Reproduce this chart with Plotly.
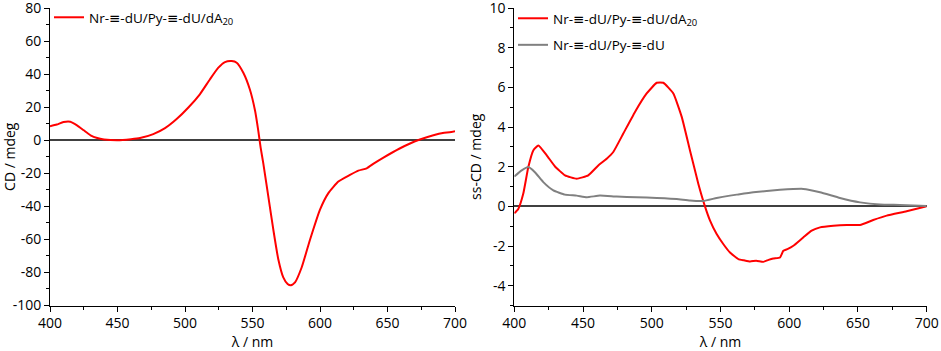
import plotly.graph_objects as go

# ---- Left panel: CD of Nr-≡-dU/Py-≡-dU/dA20 ----
wl_left = [400, 405, 410, 415, 420, 425, 430, 435, 440, 450, 460, 466.7, 476.5, 485.2, 493.8,
           502.5, 511, 518.5, 524.7, 529.6, 534.6, 538.3, 543.2, 548, 551.9, 554.3, 556, 558,
           561.7, 565.4, 569.1, 572.8, 576, 578.5, 581.5, 586.4, 592.6, 600, 606.2, 613.6,
           622.2, 628.4, 634.6, 640, 647, 659, 666.7, 674, 684, 691, 696, 700]
cd_left = [8.5, 9.5, 11.0, 11.2, 9.0, 6.0, 3.0, 1.3, 0.5, 0.0, 0.6, 1.3, 3.7, 7.3, 12.8,
           19.8, 27.8, 36.9, 43.9, 47.3, 47.9, 46.9, 40.8, 30.8, 17.8, 5.7, -4.3, -14.0,
           -34.0, -54.0, -72.0, -83.0, -87.0, -87.8, -86.0, -77.0, -60.2, -42.0, -32.0, -25.0,
           -21.0, -18.4, -17.0, -14.0, -10.5, -5.0, -2.0, 0.4, 3.0, 4.4, 4.8, 5.4]

# ---- Right panel: ss-CD ----
wl_red = [400, 402.9, 406.5, 410.2, 413.8, 417.5, 423.6, 429.6, 436.9, 445.4, 453.8, 461.1,
          467.2, 472, 479.3, 487.8, 496.3, 503.6, 508.4, 515.7, 521.8, 527.8, 533.9, 538.7,
          542.4, 547.2, 552, 556.9, 563, 567, 571.5, 576, 581.2, 585, 588.4, 593.3, 595.7,
          599, 603, 610.2, 616.3, 622.4, 632.1, 641.8, 651.5, 661.1, 670.9, 685.4, 700]
sscd_red = [-0.35, -0.13, 0.63, 1.98, 2.82, 3.07, 2.57, 2.01, 1.56, 1.39, 1.56, 2.06,
            2.4, 2.74, 3.67, 4.76, 5.69, 6.23, 6.23, 5.69, 4.51, 2.82, 1.13, 0.0,
            -0.72, -1.4, -1.9, -2.33, -2.66, -2.72, -2.78, -2.74, -2.8, -2.7, -2.63, -2.58, -2.24,
            -2.15, -1.99, -1.57, -1.23, -1.06, -0.98, -0.94, -0.94, -0.69, -0.47, -0.25, 0.0]

wl_gray = [400, 405.4, 410.2, 415, 421.1, 428.4, 436.9, 445.4, 452.7, 462.3, 474.5, 489,
           503.6, 518.1, 527.8, 537.5, 547.2, 556.9, 561.8, 573.9, 593.3, 610.2, 622.4, 636.9,
           651.5, 666, 680.5, 700]
sscd_gray = [1.5, 1.81, 1.98, 1.72, 1.22, 0.8, 0.59, 0.54, 0.46, 0.54, 0.49, 0.46,
             0.42, 0.37, 0.29, 0.27, 0.42, 0.54, 0.59, 0.71, 0.83, 0.88, 0.71, 0.42,
             0.2, 0.09, 0.07, 0.02]

name_a = "Nr-≡-dU/Py-≡-dU/dA<sub>20</sub>"
name_b = "Nr-≡-dU/Py-≡-dU"

x_ticks = [400, 450, 500, 550, 600, 650, 700]
y_left_ticks = [80, 60, 40, 20, 0, -20, -40, -60, -80, -100]
y_right_ticks = [10, 8, 6, 4, 2, 0, -2, -4]

FONT = "Open Sans, DejaVu Sans, sans-serif"
W, H = 941, 351

fig = go.Figure()
fig.add_trace(go.Scatter(x=wl_left, y=cd_left, mode="lines", name=name_a,
                         line=dict(color="#ff0000", width=2, shape="spline", smoothing=0.5),
                         xaxis="x", yaxis="y", legend="legend"))
fig.add_trace(go.Scatter(x=wl_red, y=sscd_red, mode="lines", name=name_a,
                         line=dict(color="#ff0000", width=2, shape="spline", smoothing=0.4),
                         xaxis="x2", yaxis="y2", legend="legend2", legendgroup="a"))
fig.add_trace(go.Scatter(x=wl_gray, y=sscd_gray, mode="lines", name=name_b,
                         line=dict(color="#808080", width=2, shape="spline", smoothing=0.4),
                         xaxis="x2", yaxis="y2", legend="legend2", legendgroup="b"))

def tick_text(vals):
    return [str(v) for v in vals]

xdom1 = [50 / W, 455 / W]
xdom2 = [514.3 / W, 926.7 / W]
ydom = [1 - 305.5 / H, 1 - 8 / H]

common_x = dict(showline=True, linecolor="black", linewidth=1, ticks="outside", ticklen=5,
                tickcolor="black", tickwidth=1, showgrid=False, zeroline=False,
                tickvals=x_ticks, ticktext=tick_text(x_ticks), range=[400, 700],
                ticklabeloverflow="allow",
                minor=dict(ticks="outside", ticklen=3, tickcolor="black", dtick=25, tick0=400,
                           showgrid=False),
                tickfont=dict(size=14, color="black", family=FONT),
                title=dict(text="λ / nm", font=dict(size=14, color="black", family=FONT),
                           standoff=6),
                automargin=False)
common_y = dict(showline=True, linecolor="black", linewidth=1, ticks="outside", ticklen=5,
                tickcolor="black", tickwidth=1, showgrid=False, zeroline=True,
                zerolinecolor="#404040", zerolinewidth=1.5, ticklabeloverflow="allow",
                tickfont=dict(size=14, color="black", family=FONT),
                automargin=False)

fig.update_layout(
    width=W, height=H,
    margin=dict(l=0, r=0, t=0, b=0),
    paper_bgcolor="white", plot_bgcolor="white",
    font=dict(family=FONT, size=14, color="black"),
    xaxis=dict(domain=xdom1, anchor="y", **common_x),
    yaxis=dict(domain=ydom, anchor="x", range=[-100, 80],
               tickvals=y_left_ticks, ticktext=tick_text(y_left_ticks),
               minor=dict(ticks="outside", ticklen=3, tickcolor="black", dtick=10, tick0=0,
                          showgrid=False),
               title=dict(text="CD / mdeg", font=dict(size=14, color="black", family=FONT),
                          standoff=4),
               **common_y),
    xaxis2=dict(domain=xdom2, anchor="y2", **common_x),
    yaxis2=dict(domain=ydom, anchor="x2", range=[-5, 10],
                tickvals=y_right_ticks, ticktext=tick_text(y_right_ticks),
                minor=dict(ticks="outside", ticklen=3, tickcolor="black", dtick=1, tick0=0,
                           showgrid=False),
                title=dict(text="ss-CD / mdeg", font=dict(size=14, color="black", family=FONT),
                           standoff=4),
                **common_y),
    legend=dict(x=49 / W, y=1 - 2 / H, xanchor="left", yanchor="top",
                bgcolor="rgba(0,0,0,0)", font=dict(size=13.5, color="black", family=FONT)),
    legend2=dict(x=513 / W, y=1 - 3 / H, xanchor="left", yanchor="top",
                 bgcolor="rgba(0,0,0,0)", tracegroupgap=6,
                 font=dict(size=13.5, color="black", family=FONT)),
    showlegend=True,
)

fig.write_html("out.html",
               config={"displayModeBar": False},
               post_script="document.body.style.margin='0';document.body.style.padding='0';"
                           "document.body.style.overflow='hidden';")
